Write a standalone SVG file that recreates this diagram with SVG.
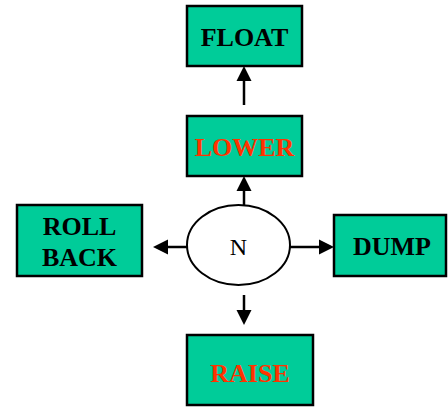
<svg xmlns="http://www.w3.org/2000/svg" width="448" height="407" viewBox="0 0 448 407">
<defs>
<style>
.box{fill:#00CC99;stroke:#000;stroke-width:2.5}
.t{font-family:"Liberation Serif","Times New Roman",serif;font-weight:bold;font-size:26px;text-anchor:middle;fill:#000}
.r{fill:#FF3300}
.c{stroke:#000;stroke-width:2.5;fill:none}
.h{fill:#000}
</style>
</defs>
<rect width="448" height="407" fill="#fff"/>
<g id="connectors">
<line class="c" x1="244" y1="105" x2="244" y2="80"/>
<polygon class="h" points="244,66 236.5,81 251.5,81"/>
<line class="c" x1="244" y1="205" x2="244" y2="190"/>
<polygon class="h" points="244,176 236.5,191 251.5,191"/>
<line class="c" x1="187" y1="247" x2="166" y2="247"/>
<polygon class="h" points="153,247 168,239.5 168,254.5"/>
<line class="c" x1="290" y1="247" x2="321" y2="247"/>
<polygon class="h" points="334,247 319,239.5 319,254.5"/>
<line class="c" x1="244" y1="295" x2="244" y2="311"/>
<polygon class="h" points="244,325 236.5,310 251.5,310"/>
</g>
<g id="float">
<rect class="box" x="187" y="6" width="115" height="60"/>
<text class="t" x="244.5" y="46">FLOAT</text>
</g>
<g id="lower">
<rect class="box" x="187" y="116" width="115" height="60"/>
<text class="t r" x="244.5" y="156">LOWER</text>
</g>
<g id="rollback">
<rect class="box" x="17" y="205" width="125" height="71"/>
<text class="t" x="79.5" y="235">ROLL</text>
<text class="t" x="79.5" y="266">BACK</text>
</g>
<g id="n">
<ellipse cx="238.5" cy="245" rx="51.5" ry="40" fill="#fff" stroke="#000" stroke-width="2"/>
<text x="238.5" y="255" font-family="Liberation Serif,'Times New Roman',serif" font-size="24" text-anchor="middle" fill="#000">N</text>
</g>
<g id="dump">
<rect class="box" x="334" y="215" width="112" height="61"/>
<text class="t" x="392" y="255">DUMP</text>
</g>
<g id="raise">
<rect class="box" x="187" y="335" width="126" height="70"/>
<text class="t r" x="250" y="382">RAISE</text>
</g>
</svg>
